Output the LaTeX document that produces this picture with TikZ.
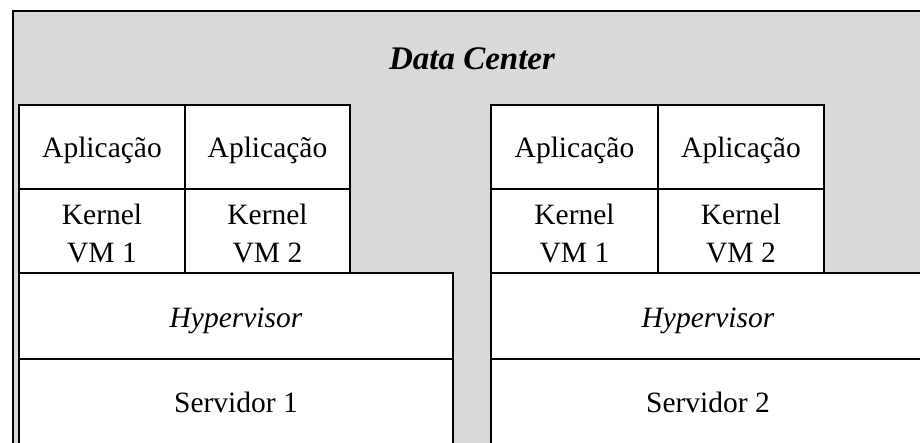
\documentclass[tikz,border=0pt]{standalone}
\usepackage{fontspec}
\setmainfont{Liberation Serif}
\definecolor{dcgray}{RGB}{217,217,217}
\newcommand{\kstrut}{\rule{0pt}{25pt}}
\tikzset{
  x=1pt, y=1pt,
  layer/.style={draw=black, fill=white, line width=1.8pt, anchor=north west,
    inner sep=0pt, outer sep=0pt, align=center,
    font=\fontsize{29.5}{35}\selectfont},
  oneline/.style={text height=24pt, text depth=2pt},
}
\begin{document}
\begin{tikzpicture}
\useasboundingbox (0,0) rectangle (920,-443);
\clip (0,0) rectangle (920,-443);
% data center enclosure
\node[draw=black, fill=dcgray, line width=2.4pt, anchor=north west, inner sep=0pt,
      minimum width=940pt, minimum height=470pt] (dc) at (12,-10) {};
\node[anchor=base, font=\fontsize{33}{40}\selectfont\bfseries\itshape] (dctitle) at (472,-70) {Data Center};
% server 1 stack
\node[layer, oneline, minimum width=166pt, minimum height=84pt] (a11) at (19,-105) {Aplicação};
\node[layer, oneline, minimum width=165pt, minimum height=84pt] (a12) at (185,-105) {Aplicação};
\node[layer, minimum width=166pt, minimum height=84pt] (k11) at (19,-189) {\kstrut Kernel\\[3pt]VM 1};
\node[layer, minimum width=165pt, minimum height=84pt] (k12) at (185,-189) {\kstrut Kernel\\[3pt]VM 2};
\node[layer, oneline, minimum width=434pt, minimum height=86pt] (h1) at (19,-273) {\itshape Hypervisor};
\node[layer, oneline, minimum width=434pt, minimum height=85pt] (s1) at (19,-359) {Servidor 1};
% server 2 stack
\node[layer, oneline, minimum width=167pt, minimum height=84pt] (a21) at (491,-105) {Aplicação};
\node[layer, oneline, minimum width=166pt, minimum height=84pt] (a22) at (658,-105) {Aplicação};
\node[layer, minimum width=167pt, minimum height=84pt] (k21) at (491,-189) {\kstrut Kernel\\[3pt]VM 1};
\node[layer, minimum width=166pt, minimum height=84pt] (k22) at (658,-189) {\kstrut Kernel\\[3pt]VM 2};
\node[layer, oneline, minimum width=434pt, minimum height=86pt] (h2) at (491,-273) {\itshape Hypervisor};
\node[layer, oneline, minimum width=434pt, minimum height=85pt] (s2) at (491,-359) {Servidor 2};
\end{tikzpicture}
\end{document}
